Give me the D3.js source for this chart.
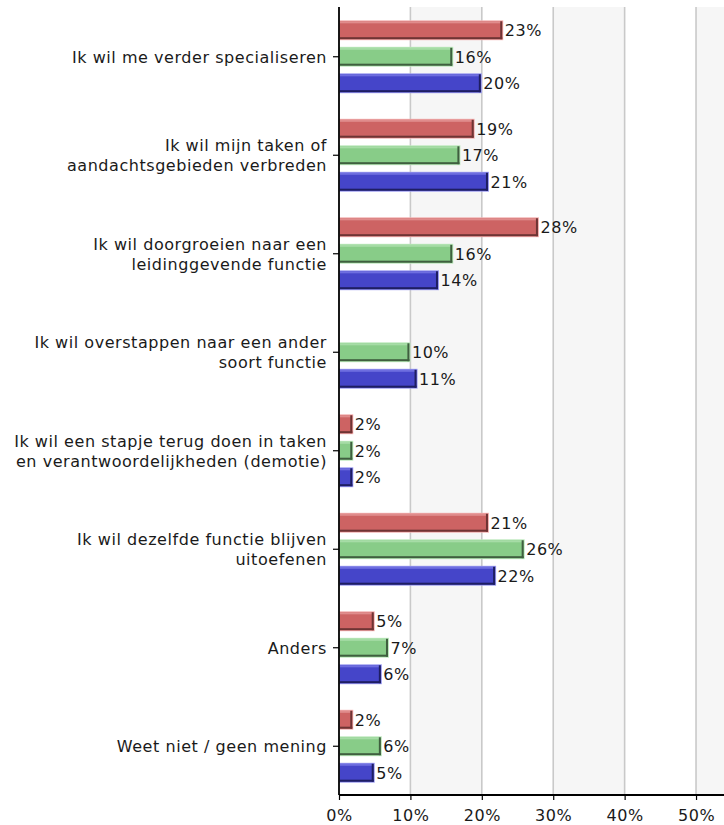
<!DOCTYPE html>
<html>
<head>
<meta charset="utf-8">
<script src="https://cdn.jsdelivr.net/npm/d3@7"></script>
<style>
  html, body { margin: 0; padding: 0; background: #ffffff; }
  svg { display: block; }
  text { font-family: "DejaVu Sans", Verdana, sans-serif; font-size: 16px; letter-spacing: 0.55px; fill: #1a1a1a; }
</style>
</head>
<body>
<div id="chart"></div>
<script>
// Category labels, one entry per line of the label
const categoryLines = [
  ["Ik wil me verder specialiseren"],
  ["Ik wil mijn taken of", "aandachtsgebieden verbreden"],
  ["Ik wil doorgroeien naar een", "leidinggevende functie"],
  ["Ik wil overstappen naar een ander", "soort functie"],
  ["Ik wil een stapje terug doen in taken", "en verantwoordelijkheden (demotie)"],
  ["Ik wil dezelfde functie blijven", "uitoefenen"],
  ["Anders"],
  ["Weet niet / geen mening"]
];

// Percentages per series (null = no bar)
const seriesRed   = [23, 19, 28, null, 2, 21, 5, 2];
const seriesGreen = [16, 17, 16, 10,   2, 26, 7, 6];
const seriesBlue  = [20, 21, 14, 11,   2, 22, 6, 5];

const seriesKeys = ["rood", "groen", "blauw"];
const xTicks = [0, 10, 20, 30, 40, 50];

const palette = {
  rood:  { fill: "#cd6363", light: "#f2b0b0", top: "#e08c8c", dark: "#6e3434" },
  groen: { fill: "#88cc88", light: "#bde8bd", top: "#a6dca6", dark: "#3f5f3f" },
  blauw: { fill: "#4545c9", light: "#9a9af0", top: "#6e6ee0", dark: "#1e1e62" }
};

const W = 724, H = 825;
const plotLeft = 339, plotRight = 724.6, plotTop = 7, plotBottom = 795;

const categories = categoryLines.map(l => l.join(" "));
const table = categories.map((c, i) => ({
  cat: c,
  lines: categoryLines[i],
  rood: seriesRed[i],
  groen: seriesGreen[i],
  blauw: seriesBlue[i]
}));

const svg = d3.select("#chart").append("svg")
  .attr("width", W).attr("height", H);

const x = d3.scaleLinear().domain([0, 54]).range([plotLeft, plotRight]);
const y = d3.scaleBand().domain(categories).range([plotTop, plotBottom]).padding(0);
const yInner = d3.scaleBand().domain(seriesKeys)
  .range([10, y.bandwidth() - 9])
  .paddingInner(0.25).paddingOuter(0.125);

// Alternating background bands between gridlines
const bandEdges = xTicks.concat([54]);
svg.append("g").selectAll("rect")
  .data(d3.range(bandEdges.length - 1))
  .join("rect")
  .attr("x", i => x(bandEdges[i]))
  .attr("y", plotTop)
  .attr("width", i => x(bandEdges[i + 1]) - x(bandEdges[i]))
  .attr("height", plotBottom - plotTop)
  .attr("fill", i => i % 2 ? "#f6f6f6" : "#ffffff");

// Vertical gridlines
svg.append("g").selectAll("line")
  .data(xTicks.filter(t => t > 0))
  .join("line")
  .attr("x1", d => x(d)).attr("x2", d => x(d))
  .attr("y1", plotTop).attr("y2", plotBottom)
  .attr("stroke", "#c9c9c9").attr("stroke-width", 1.6);

// Bars with bevelled edges
const groups = svg.append("g").selectAll("g")
  .data(table)
  .join("g")
  .attr("transform", d => `translate(0,${y(d.cat)})`);

const bars = groups.selectAll("g.bar")
  .data(d => seriesKeys.filter(k => d[k] != null).map(k => ({ key: k, value: d[k] })))
  .join("g").attr("class", "bar");

const bh = yInner.bandwidth();
bars.each(function(d) {
  const g = d3.select(this);
  const c = palette[d.key];
  const y0 = yInner(d.key);
  const x0 = x(0), x1 = x(d.value);
  g.append("rect").attr("x", x0).attr("y", y0).attr("width", x1 - x0).attr("height", bh).attr("fill", c.light);
  g.append("rect").attr("x", x0 + 1).attr("y", y0 + 1).attr("width", Math.max(0, x1 - x0 - 2)).attr("height", bh - 2).attr("fill", c.fill);
  g.append("rect").attr("x", x0 + 1).attr("y", y0 + 1).attr("width", Math.max(0, x1 - x0 - 2)).attr("height", 2).attr("fill", c.top);
  g.append("rect").attr("x", x0 + 1).attr("y", y0 + bh - 3).attr("width", Math.max(0, x1 - x0 - 2)).attr("height", 2).attr("fill", c.dark);
  g.append("rect").attr("x", x1 - 3).attr("y", y0 + 1).attr("width", 2).attr("height", bh - 2).attr("fill", c.dark);
  g.append("text")
    .attr("x", x1 + 1.5)
    .attr("y", y0 + bh / 2)
    .attr("dy", "0.36em")
    .text(d.value + "%");
});

// Y axis with category labels
const yAxis = svg.append("g");
yAxis.append("line")
  .attr("x1", plotLeft).attr("x2", plotLeft)
  .attr("y1", plotTop).attr("y2", plotBottom)
  .attr("stroke", "#000").attr("stroke-width", 1.8);

const yTickPos = d => y(d.cat) + yInner("groen") + bh / 2;
yAxis.selectAll("line.tick")
  .data(table).join("line").attr("class", "tick")
  .attr("x1", plotLeft - 6).attr("x2", plotLeft)
  .attr("y1", yTickPos).attr("y2", yTickPos)
  .attr("stroke", "#000").attr("stroke-width", 1.2);

const labelX = plotLeft - 12;
yAxis.selectAll("text")
  .data(table).join("text")
  .attr("text-anchor", "end")
  .attr("x", labelX)
  .attr("y", d => yTickPos(d) - (d.lines.length - 1) * 10)
  .each(function(d) {
    const t = d3.select(this);
    d.lines.forEach((ln, i) => {
      t.append("tspan")
        .attr("x", labelX)
        .attr("dy", i === 0 ? "0.36em" : "20")
        .text(ln);
    });
  });

// X axis
const xAxis = svg.append("g").attr("transform", `translate(0,${plotBottom})`)
  .call(d3.axisBottom(x).tickValues(xTicks).tickFormat(d => d + "%").tickSize(5).tickSizeOuter(0));
xAxis.select(".domain").attr("stroke", "#000").attr("stroke-width", 1.8)
  .attr("d", `M${plotLeft},0H${W}`);
xAxis.selectAll(".tick line").attr("stroke", "#000").attr("stroke-width", 1.2);
xAxis.selectAll(".tick text")
  .attr("fill", "#1a1a1a")
  .attr("font-family", "DejaVu Sans, Verdana, sans-serif")
  .attr("font-size", 16)
  .attr("dy", "1.1em");
</script>
</body>
</html>
